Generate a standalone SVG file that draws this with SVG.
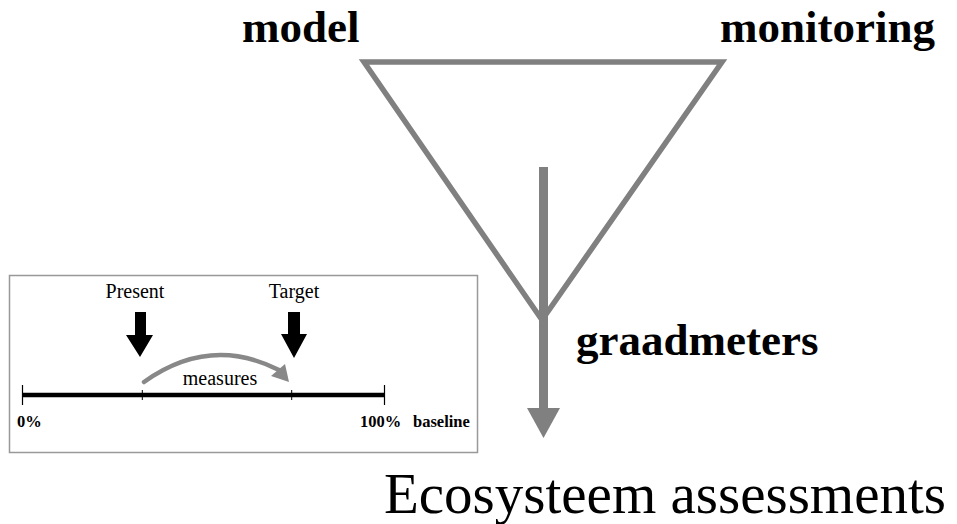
<svg xmlns="http://www.w3.org/2000/svg" width="957" height="524" viewBox="0 0 957 524">
  <style>
    .big { font-family: "Liberation Serif", "Times New Roman", serif; font-weight: bold; font-size: 45px; fill: #000; }
    .title { font-family: "Liberation Serif", "Times New Roman", serif; font-size: 57px; fill: #000; }
    .lbl { font-family: "Liberation Serif", "Times New Roman", serif; font-size: 20px; fill: #000; }
    .pct { font-family: "Liberation Serif", "Times New Roman", serif; font-weight: bold; font-size: 16.5px; fill: #000; }
    .grey { stroke: #808080; fill: none; }
  </style>

  <rect width="957" height="524" fill="#fff"/>

  <!-- funnel combining model and monitoring -->
  <g id="funnel">
    <polygon class="grey" points="364,62 722,62 542,320" stroke-width="5.5" stroke-linejoin="miter"/>
  </g>

  <g id="model"><text class="big" x="242" y="42">model</text></g>
  <g id="monitoring"><text class="big" x="720" y="42">monitoring</text></g>
  <g id="graadmeters"><text class="big" x="576" y="355">graadmeters</text></g>
  <g id="assessments"><text class="title" x="384" y="513">Ecosysteem assessments</text></g>

  <g id="connectors">
    <line x1="543.5" y1="167" x2="543.5" y2="410" stroke="#808080" stroke-width="9"/>
    <polygon points="527,408 560,408 543.5,438" fill="#808080"/>
  </g>

  <!-- inset: baseline scale from 0% to 100% -->
  <g id="inset">
    <rect x="9.5" y="275.5" width="468" height="177" fill="#fff" stroke="#999" stroke-width="1.5"/>
    <line x1="23" y1="395" x2="384" y2="395" stroke="#000" stroke-width="4.5"/>
    <line x1="22.5" y1="385" x2="22.5" y2="405" stroke="#000" stroke-width="1.2"/>
    <line x1="384.5" y1="385" x2="384.5" y2="405" stroke="#000" stroke-width="1.2"/>
    <line x1="142.3" y1="390" x2="142.3" y2="400" stroke="#000" stroke-width="1"/>
    <line x1="291.7" y1="390" x2="291.7" y2="400" stroke="#000" stroke-width="1"/>

    <text class="lbl" x="135" y="298" text-anchor="middle">Present</text>
    <text class="lbl" x="294" y="298" text-anchor="middle">Target</text>
    <polygon points="135,312 146,312 146,335 153,335 140,357 126,335 135,335" fill="#000"/>
    <polygon points="288,312 300,312 300,334 307,334 294,358 281,334 288,334" fill="#000"/>

    <path d="M144,382 Q210,335 279,370" stroke="#888" stroke-width="4.5" fill="none" stroke-linecap="round"/>
    <polygon points="289,382 285,364 271,376" fill="#888"/>
    <text class="lbl" x="220" y="385" text-anchor="middle">measures</text>

    <text class="pct" x="17" y="427">0%</text>
    <text class="pct" x="360" y="427">100%</text>
    <text class="pct" x="413" y="427">baseline</text>
  </g>
</svg>
